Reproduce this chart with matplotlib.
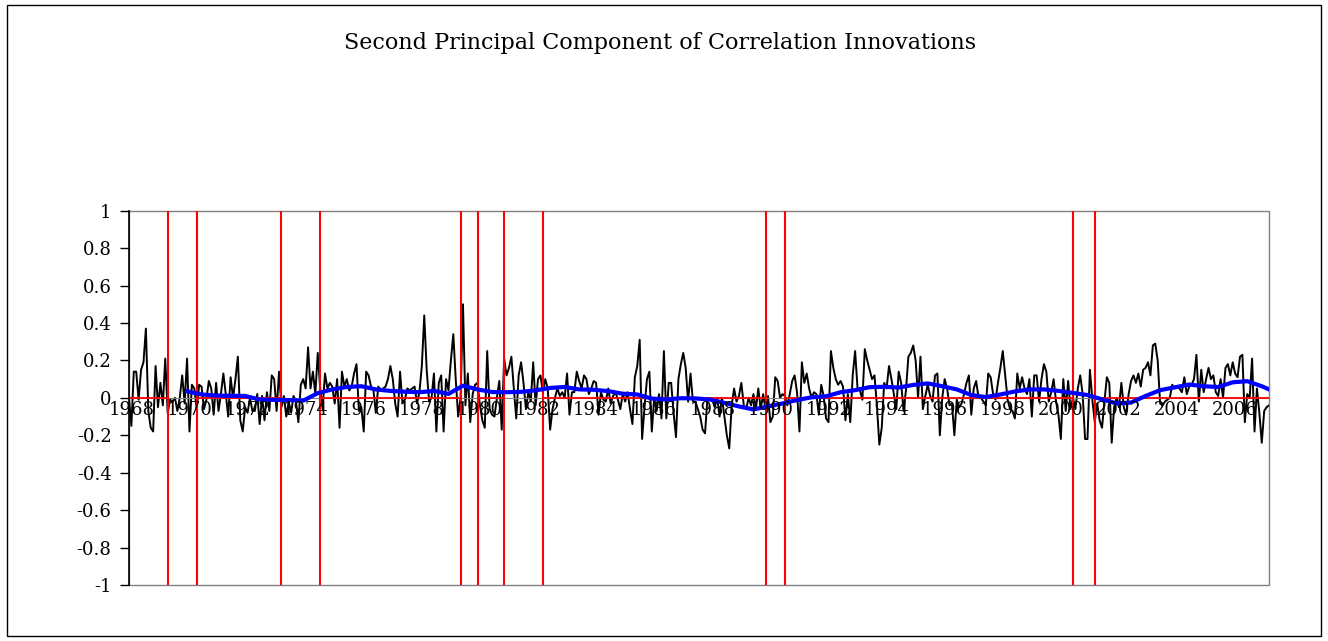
import numpy as np
import matplotlib
matplotlib.use("Agg")
import matplotlib.pyplot as plt
from matplotlib.patches import Rectangle
from matplotlib.ticker import FuncFormatter

plt.rcParams['font.family'] = ['DejaVu Serif']

# monthly values, Aug 1968 .. Nov 2007 (one row = 12 months)
pc2 = [
    0.00, -0.15, 0.14, 0.14, -0.01, 0.15, 0.19, 0.37, -0.07, -0.16, -0.18, 0.17,
    -0.05, 0.08, -0.04, 0.21, -0.08, -0.01, -0.02, 0.00, -0.07, 0.00, 0.12, -0.03,
    0.21, -0.18, 0.07, 0.05, -0.06, 0.07, 0.06, -0.06, -0.01, 0.09, 0.05, -0.09,
    0.08, -0.07, 0.02, 0.13, 0.02, -0.10, 0.11, 0.00, 0.10, 0.22, -0.12, -0.18,
    -0.05, -0.08, 0.00, -0.07, -0.07, 0.02, -0.14, 0.01, -0.12, 0.03, -0.07, 0.12,
    0.10, -0.07, 0.14, -0.05, 0.01, -0.10, -0.02, -0.08, 0.01, -0.02, -0.13, 0.07,
    0.10, 0.05, 0.27, 0.05, 0.14, 0.02, 0.24, 0.05, -0.06, 0.13, 0.05, 0.08,
    0.06, -0.03, 0.10, -0.16, 0.14, 0.06, 0.10, 0.04, 0.06, 0.13, 0.18, -0.07,
    -0.05, -0.18, 0.14, 0.12, 0.06, 0.04, -0.08, 0.06, 0.04, 0.05, 0.06, 0.10,
    0.17, 0.10, -0.03, -0.10, 0.14, -0.03, -0.01, 0.05, 0.04, 0.05, 0.06, -0.03,
    0.03, 0.17, 0.44, 0.15, -0.02, 0.00, 0.13, -0.18, 0.08, 0.12, -0.18, 0.10,
    0.04, 0.20, 0.34, 0.10, -0.10, 0.00, 0.50, -0.04, 0.13, -0.13, 0.02, 0.07,
    0.08, -0.04, -0.12, -0.16, 0.25, -0.06, -0.09, -0.10, 0.00, 0.09, -0.17, 0.21,
    0.12, 0.16, 0.22, 0.05, -0.11, 0.12, 0.19, 0.08, -0.06, 0.03, -0.02, 0.19,
    -0.04, 0.10, 0.12, 0.03, 0.10, 0.05, -0.17, -0.06, 0.00, 0.05, 0.01, 0.03,
    0.00, 0.13, -0.09, 0.03, 0.03, 0.14, 0.09, 0.05, 0.12, 0.10, 0.02, 0.05,
    0.09, 0.08, -0.09, 0.03, -0.01, -0.02, 0.05, -0.03, 0.01, 0.03, -0.01, -0.06,
    0.02, -0.02, 0.03, -0.06, -0.14, 0.11, 0.17, 0.31, -0.22, -0.05, 0.10, 0.14,
    -0.18, 0.00, -0.07, 0.02, -0.11, 0.25, -0.11, 0.08, 0.08, -0.08, -0.21, 0.10,
    0.18, 0.24, 0.16, -0.02, 0.13, -0.02, -0.02, -0.06, -0.10, -0.17, -0.19, 0.00,
    -0.01, -0.01, -0.05, 0.00, -0.10, 0.00, -0.10, -0.20, -0.27, -0.04, 0.05, -0.02,
    0.01, 0.08, -0.04, -0.06, 0.00, -0.04, 0.02, -0.06, 0.05, -0.06, 0.02, -0.06,
    0.01, -0.13, -0.10, 0.11, 0.09, 0.00, 0.02, 0.01, -0.04, 0.02, 0.09, 0.12,
    0.03, -0.18, 0.19, 0.08, 0.13, 0.05, 0.00, 0.03, 0.02, -0.09, 0.07, 0.01,
    -0.11, -0.13, 0.25, 0.16, 0.10, 0.07, 0.09, 0.06, -0.12, 0.02, -0.13, 0.12,
    0.25, 0.05, 0.04, -0.01, 0.26, 0.20, 0.15, 0.10, 0.12, -0.04, -0.25, -0.16,
    0.08, 0.05, 0.17, 0.10, 0.02, -0.06, 0.14, 0.08, -0.07, 0.04, 0.22, 0.24,
    0.28, 0.20, 0.00, 0.22, -0.06, 0.01, 0.07, 0.01, -0.02, 0.12, 0.13, -0.20,
    0.00, 0.10, 0.05, -0.04, -0.03, -0.20, -0.01, -0.05, -0.03, 0.02, 0.08, 0.12,
    -0.09, 0.05, 0.09, 0.00, 0.00, -0.02, -0.04, 0.13, 0.11, 0.02, -0.01, 0.08,
    0.16, 0.25, 0.12, -0.01, -0.06, -0.07, -0.11, 0.13, 0.05, 0.11, 0.05, 0.02,
    0.10, -0.10, 0.12, 0.12, -0.02, 0.10, 0.18, 0.14, -0.02, 0.03, 0.10, -0.02,
    -0.09, -0.22, 0.10, -0.07, 0.09, -0.06, 0.00, -0.06, 0.05, 0.12, 0.02, -0.22,
    -0.22, 0.15, -0.01, -0.13, -0.03, -0.12, -0.16, -0.02, 0.11, 0.08, -0.24, -0.05,
    0.00, -0.05, 0.08, -0.05, -0.09, 0.02, 0.09, 0.12, 0.08, 0.13, 0.06, 0.15,
    0.16, 0.19, 0.12, 0.28, 0.29, 0.20, -0.03, -0.04, -0.02, -0.01, 0.00, 0.07,
    0.05, 0.06, 0.05, 0.03, 0.11, 0.02, 0.06, 0.07, 0.10, 0.23, -0.02, 0.15,
    0.03, 0.10, 0.16, 0.10, 0.12, 0.03, 0.01, 0.10, 0.00, 0.16, 0.18, 0.12,
    0.19, 0.13, 0.11, 0.22, 0.23, -0.13, 0.02, 0.00, 0.21, -0.18, 0.05, -0.08,
    -0.24, -0.07, -0.05, -0.04,
]

# smoothed (moving average) line, read every 6 months
ma_month = list(range(24, 469, 6)) + [471]
ma_value = [
    0.035, 0.018, 0.012, 0.011, 0.010, -0.009, -0.011, -0.012, -0.015, 0.025,
    0.045, 0.058, 0.062, 0.045, 0.037, 0.033, 0.030, 0.037, 0.021, 0.065,
    0.045, 0.031, 0.030, 0.032, 0.040, 0.053, 0.058, 0.045, 0.043, 0.036,
    0.022, 0.018, -0.004, -0.009, -0.002, -0.003, -0.009, -0.027, -0.046, -0.062,
    -0.046, -0.030, -0.012, 0.003, 0.008, 0.030, 0.041, 0.057, 0.059, 0.055,
    0.069, 0.077, 0.062, 0.045, 0.015, 0.004, 0.018, 0.034, 0.045, 0.045,
    0.037, 0.026, 0.015, -0.008, -0.030, -0.025, 0.010, 0.041, 0.056, 0.071,
    0.062, 0.058, 0.083, 0.089, 0.062, 0.045,
]

# recession start / end months (index into pc2)
rec_start = [16, 63, 137, 155, 263, 390]
rec_end = [28, 79, 144, 171, 271, 399]

years = list(range(1968, 2007, 2))

n = len(pc2)
x = np.arange(n)

fig = plt.figure(figsize=(13.28, 6.41), dpi=100)
ax = fig.add_axes([0.0971, 0.0874, 0.8585, 0.5839])

ax.plot(x, pc2, color='black', lw=1.4, zorder=2)

# red indicator: zero outside recessions, vertical bars at turning points
zero_line = np.zeros(n)
for s, e in zip(rec_start, rec_end):
    zero_line[s + 1:e] = np.nan
ax.plot(x, zero_line, color='#ff0000', lw=1.3, zorder=3)
ax.vlines(rec_start + rec_end, -1, 1, color='#ff0000', lw=1.5, zorder=3)

ax.plot(ma_month, ma_value, color='#0000ff', lw=3.0, zorder=4)

ax.set_xlim(0, n - 1)
ax.set_ylim(-1, 1)

ax.set_yticks(np.arange(-1, 1.01, 0.2))
ax.yaxis.set_major_formatter(
    FuncFormatter(lambda v, p: '%g' % (round(v, 1) + 0.0)))
ax.tick_params(axis='y', length=6.5, width=1, direction='out', pad=6,
               labelsize=13)

ax.set_xticks(range(1, n, 24))
ax.set_xticklabels([str(y) for y in years])
ax.tick_params(axis='x', length=0, pad=2, labelsize=13)
ax.xaxis.set_zorder(6)

for side in ['top', 'right']:
    ax.spines[side].set_visible(False)
ax.spines['bottom'].set_position(('data', 0))
ax.spines['bottom'].set_color('#808080')
ax.spines['left'].set_linewidth(1.2)
ax.spines['left'].set_zorder(5)
ax.add_patch(Rectangle((0, 0), 1, 1, transform=ax.transAxes, fill=False,
                       edgecolor='#808080', lw=1, zorder=1, clip_on=False))

fig.text(0.497, 0.933, 'Second Principal Component of Correlation Innovations',
         ha='center', va='center', fontsize=16)

# outer chart border
fig.add_artist(Rectangle((0.005, 0.008), 0.99, 0.984, transform=fig.transFigure,
                         fill=False, edgecolor='black', lw=1))

fig.savefig('out.png', dpi=100)
